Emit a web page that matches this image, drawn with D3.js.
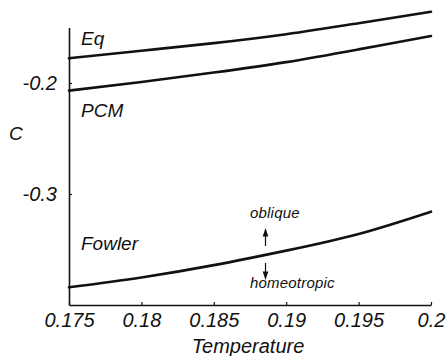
<!DOCTYPE html>
<html>
<head>
<meta charset="utf-8">
<script src="https://cdn.jsdelivr.net/npm/d3@7"></script>
<style>
  body { margin: 0; background: #fff; }
  text { font-family: "Liberation Sans", Arial, sans-serif; font-style: italic; fill: #111; }
</style>
</head>
<body>
<svg id="chart"></svg>
<script>
// values
const temps = [0.175, 0.18, 0.185, 0.19, 0.195, 0.2];
const eqC = [-0.1777, -0.1709, -0.1641, -0.1561, -0.1461, -0.1358];
const pcmC = [-0.2069, -0.1991, -0.1906, -0.1812, -0.1697, -0.1577];
const fowlerC = [-0.3841, -0.3752, -0.3641, -0.3510, -0.3360, -0.3159];

const xTicks = [0.175, 0.18, 0.185, 0.19, 0.195, 0.2];
const xTickLabels = ["0.175", "0.18", "0.185", "0.19", "0.195", "0.2"];
const yTicks = [-0.2, -0.3];
const yTickLabels = ["-0.2", "-0.3"];

const seriesNames = ["Eq", "PCM", "Fowler"];

const width = 448, height = 356;
const svg = d3.select("#chart").attr("width", width).attr("height", height);

const x = d3.scaleLinear().domain([0.175, 0.2]).range([69, 431]);
const y = d3.scaleLinear().domain([-0.4, -0.15]).range([305, 27.5]);

const line = d3.line()
  .x((d) => x(d[0]))
  .y((d) => y(d[1]))
  .curve(d3.curveNatural);

[eqC, pcmC, fowlerC].forEach((vals) => {
  svg.append("path")
    .datum(temps.map((t, i) => [t, vals[i]]))
    .attr("fill", "none")
    .attr("stroke", "#111")
    .attr("stroke-width", 2.6)
    .attr("stroke-linecap", "round")
    .attr("d", line);
});

// axes, ticks pointing inward
const xAxis = svg.append("g")
  .attr("transform", `translate(0,${y(-0.4)})`)
  .call(d3.axisBottom(x)
    .tickValues(xTicks)
    .tickFormat((d, i) => xTickLabels[i])
    .tickSizeInner(-3)
    .tickSizeOuter(0)
    .tickPadding(8));

const yAxis = svg.append("g")
  .attr("transform", `translate(${x(0.175)},0)`)
  .call(d3.axisLeft(y)
    .tickValues(yTicks)
    .tickFormat((d, i) => yTickLabels[i])
    .tickSizeInner(-3)
    .tickSizeOuter(0)
    .tickPadding(12));

[xAxis, yAxis].forEach((g) => {
  g.select(".domain").attr("stroke", "#111").attr("stroke-width", 1.6);
  g.selectAll(".tick line").attr("stroke", "#111").attr("stroke-width", 1.2);
  g.selectAll(".tick text")
    .attr("font-family", "Liberation Sans, Arial, sans-serif")
    .attr("font-style", "italic")
    .attr("font-size", 20)
    .attr("fill", "#111");
});

svg.append("text")
  .attr("x", 248)
  .attr("y", 353)
  .attr("text-anchor", "middle")
  .attr("font-size", 20)
  .text("Temperature");

svg.append("text")
  .attr("x", 9)
  .attr("y", 140)
  .attr("font-size", 19)
  .text("C");

// curve labels
const labelPos = [[81, 45], [81, 117], [81, 250]];
seriesNames.forEach((name, i) => {
  svg.append("text")
    .attr("x", labelPos[i][0])
    .attr("y", labelPos[i][1])
    .attr("font-size", 19)
    .text(name);
});

// oblique / homeotropic annotation
svg.append("text")
  .attr("x", 250).attr("y", 218)
  .attr("font-size", 15).attr("letter-spacing", 0.2)
  .text("oblique");
svg.append("text")
  .attr("x", 250).attr("y", 288)
  .attr("font-size", 15).attr("letter-spacing", 0.2)
  .text("homeotropic");

const ax = 265.5;
svg.append("path")
  .attr("d", `M${ax},246V233M${ax - 2},236L${ax},230L${ax + 2},236Z`)
  .attr("stroke", "#111").attr("stroke-width", 1.2).attr("fill", "#111");
svg.append("path")
  .attr("d", `M${ax},263V274M${ax - 2},272L${ax},278L${ax + 2},272Z`)
  .attr("stroke", "#111").attr("stroke-width", 1.2).attr("fill", "#111");
</script>
</body>
</html>
